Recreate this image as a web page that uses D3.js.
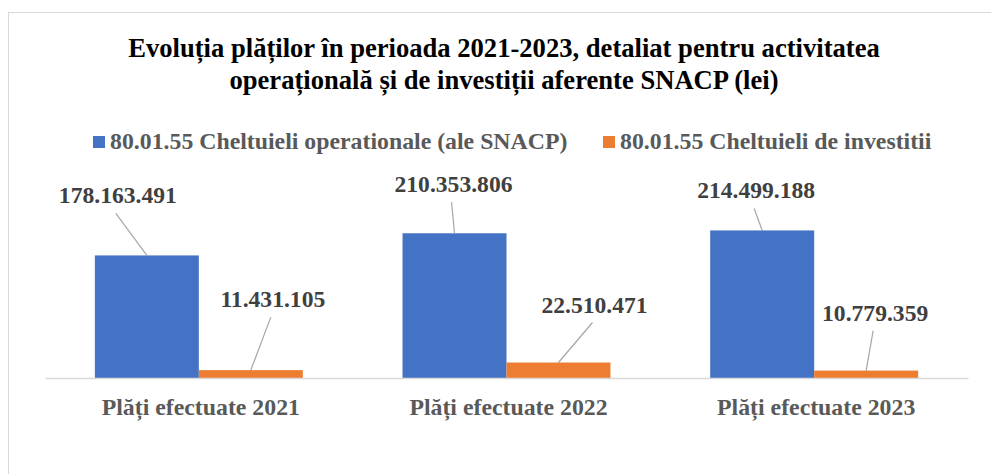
<!DOCTYPE html>
<html>
<head>
<meta charset="utf-8">
<script src="https://cdn.jsdelivr.net/npm/d3@7"></script>
<style>
  html, body { margin: 0; padding: 0; background: #fff; }
  svg { display: block; }
</style>
</head>
<body>
<svg id="chart" width="991" height="474"></svg>
<script>
// ---- data ----
const categories = ["Plăți efectuate 2021", "Plăți efectuate 2022", "Plăți efectuate 2023"];
const seriesNames = ["80.01.55 Cheltuieli operationale (ale SNACP)", "80.01.55 Cheltuieli de investitii"];
const operationalValues = [178163491, 210353806, 214499188];
const investmentValues = [11431105, 22510471, 10779359];
const titleLines = ["Evoluția plăților în perioada 2021-2023, detaliat pentru activitatea",
                    "operațională și de investiții aferente SNACP (lei)"];

// ---- layout ----
const FONT = "'Liberation Serif'";
const colors = ["#4472C4", "#ED7D31"];
const plot = { left: 45, right: 968, top: 206, bottom: 378 };
// manual data-label offsets (px) relative to bar top centre, per series / category
const labelOffsets = [
  [[-29, -52], [-1, -41], [-6, -32]],
  [[22, -63], [36, -50], [9, -50]]
];

const fmt = v => d3.format(",")(v).replace(/,/g, ".");
const styleText = sel => sel.style("font-family", FONT).style("font-weight", "bold");

const svg = d3.select("#chart");

// chart border
svg.append("rect").attr("x", 8.5).attr("y", 12.5).attr("width", 1000).attr("height", 500)
  .attr("fill", "#fff").attr("stroke", "#d9d9d9").attr("stroke-width", 1);

// title
svg.append("g").selectAll("text").data(titleLines).join("text")
  .attr("x", 504).attr("y", (d, i) => 57 + i * 32)
  .attr("text-anchor", "middle").attr("font-size", 26.6).attr("fill", "#000")
  .call(styleText)
  .text(d => d);

// legend
const legend = svg.append("g");
const legendX = [93, 603];
seriesNames.forEach((name, i) => {
  legend.append("rect").attr("x", legendX[i]).attr("y", 136).attr("width", 12).attr("height", 12)
    .attr("fill", colors[i]);
  legend.append("text").attr("x", legendX[i] + 17).attr("y", 149)
    .attr("font-size", 23.8).attr("fill", "#595959").call(styleText).text(name);
});

// scales
const x0 = d3.scaleBand().domain(categories).range([plot.left, plot.right]).paddingInner(0).paddingOuter(0);
const x1 = d3.scaleBand().domain([0, 1]).range([0, x0.bandwidth()]).paddingInner(0).paddingOuter(0.4795);
const y = d3.scaleLinear().domain([0, 250000000]).range([plot.bottom, plot.bottom - 250 * 0.688]);

const series = [operationalValues, investmentValues];
const bars = [];
series.forEach((vals, s) => {
  vals.forEach((v, c) => bars.push({ s, c, v }));
});

// bars
svg.append("g").selectAll("rect").data(bars).join("rect")
  .attr("x", d => x0(categories[d.c]) + x1(d.s))
  .attr("y", d => y(d.v))
  .attr("width", x1.bandwidth())
  .attr("height", d => y(0) - y(d.v))
  .attr("fill", d => colors[d.s]);

// axis line
const xAxis = d3.axisBottom(x0).tickSize(0).tickPadding(0);
const ax = svg.append("g").attr("transform", `translate(0,${plot.bottom})`).call(xAxis);
ax.select(".domain").attr("stroke", "#d9d9d9").attr("stroke-width", 1.5);
ax.selectAll(".tick text")
  .attr("font-size", 23.8).attr("fill", "#595959")
  .call(styleText)
  .attr("dy", 0).attr("y", 37).attr("dx", 2);

// data labels with leader lines
const lbl = svg.append("g");
bars.forEach(d => {
  const bx = x0(categories[d.c]) + x1(d.s) + x1.bandwidth() / 2;
  const by = y(d.v);
  const [dx, dy] = labelOffsets[d.s][d.c];
  const lx = bx + dx, ly = by + dy;
  lbl.append("line").attr("x1", lx - 2).attr("y1", ly + 10).attr("x2", bx).attr("y2", by)
    .attr("stroke", "#a6a6a6").attr("stroke-width", 1.2);
  lbl.append("text").attr("x", lx).attr("y", ly).attr("text-anchor", "middle")
    .attr("font-size", 23.6).attr("fill", "#404040").call(styleText).text(fmt(d.v));
});
</script>
</body>
</html>
